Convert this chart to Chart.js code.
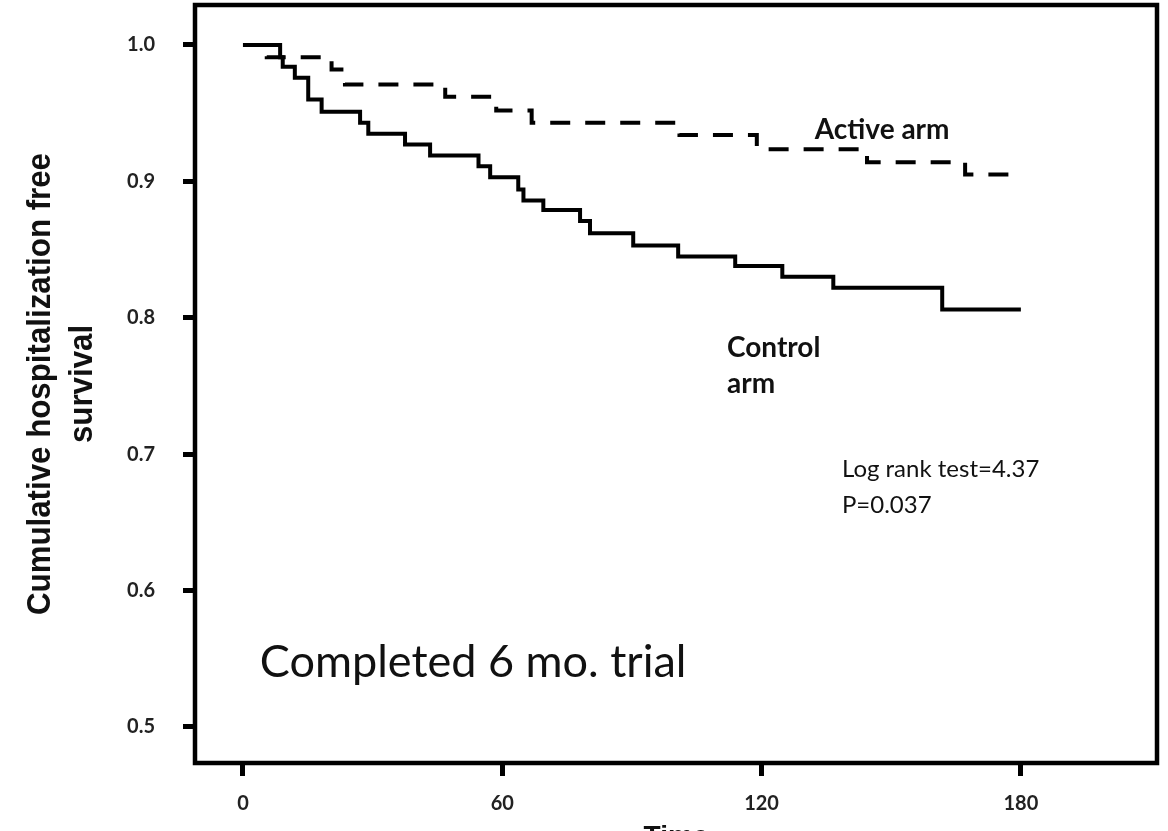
<!DOCTYPE html>
<html>
<head>
<meta charset="utf-8">
<script src="https://cdn.jsdelivr.net/npm/chart.js@4.4.1/dist/chart.umd.min.js"></script>
<style>
  html, body { margin: 0; padding: 0; background: #fff; overflow: hidden; }
  #wrap { width: 1168px; height: 860px; position: relative; }
</style>
</head>
<body>
<div id="wrap"><canvas id="km"></canvas></div>
<script>
// eixos
const xTicks = [0, 60, 120, 180];
const yTicks = [0.5, 0.6, 0.7, 0.8, 0.9, 1.0];

// Kaplan-Meier: dia do evento -> sobrevida depois do degrau
const controlDays = [0, 8.6, 9.2, 12.0, 15.1, 18.2, 27.1, 29.0, 37.5, 43.3, 54.5, 57.2, 63.7, 64.9, 69.5, 78.0, 80.3, 90.3, 100.7, 113.9, 124.8, 136.6, 161.8, 180];
const controlSurv = [1.0, 0.991, 0.984, 0.976, 0.960, 0.951, 0.943, 0.935, 0.927, 0.919, 0.911, 0.903, 0.894, 0.886, 0.879, 0.871, 0.862, 0.853, 0.845, 0.838, 0.830, 0.822, 0.806, 0.806];

const activeDays = [0, 5.5, 20.5, 23.6, 46.8, 58.6, 66.8, 101.0, 118.9, 144.4, 167.1, 180];
const activeSurv = [1.0, 0.991, 0.982, 0.971, 0.962, 0.952, 0.943, 0.934, 0.9235, 0.914, 0.905, 0.905];

const yTitle = ["Cumulative hospitalization free", "survival"];
const xTitle = "Time";

function pts(days, surv) {
  return days.map((d, i) => ({ x: d, y: surv[i] }));
}

// moldura completa + textos soltos dentro do gráfico
const moldura = {
  id: "moldura",
  afterDatasetsDraw(chart) {
    const { ctx, chartArea: a } = chart;
    const xs = chart.scales.x, ys = chart.scales.y;
    ctx.save();
    ctx.strokeStyle = "#000";
    ctx.lineWidth = 4.5;
    ctx.strokeRect(a.left, a.top, a.right - a.left, a.bottom - a.top);

    ctx.fillStyle = "#111";
    ctx.textAlign = "left";
    ctx.textBaseline = "alphabetic";
    const txt = (s, font, d, v) => {
      ctx.font = font;
      ctx.fillText(s, xs.getPixelForValue(d), ys.getPixelForValue(v));
    };
    txt("Active arm", "bold 28px Lato", 132.3, 0.931);
    txt("Control", "bold 28px Lato", 112.0, 0.7711);
    txt("arm", "bold 28px Lato", 112.0, 0.7447);
    txt("Log rank test=4.37", "24px Lato", 138.6, 0.6831);
    txt("P=0.037", "24px Lato", 138.6, 0.6566);
    txt("Completed 6 mo. trial", "45px Lato", 3.9, 0.5363);

    // título do eixo y, em fonte condensada (duas linhas)
    ctx.font = "bold 33px 'Liberation Sans'";
    ctx.textAlign = "center";
    const esc = 462 / ctx.measureText(yTitle[0]).width;
    const cy = (a.top + a.bottom) / 2;
    [[a.left - 145, yTitle[0]], [a.left - 103, yTitle[1]]].forEach(([bx, s]) => {
      ctx.save();
      ctx.translate(bx, cy);
      ctx.rotate(-Math.PI / 2);
      ctx.scale(esc, 1);
      ctx.fillText(s, 0, 0);
      ctx.restore();
    });
    ctx.restore();
  }
};

Chart.defaults.font.family = "Lato";
Chart.defaults.color = "#222";

new Chart(document.getElementById("km"), {
  type: "line",
  data: {
    datasets: [
      {
        label: "Control arm",
        data: pts(controlDays, controlSurv),
        stepped: "before",
        borderColor: "#000",
        borderWidth: 4,
        pointRadius: 0,
        fill: false,
      },
      {
        label: "Active arm",
        data: pts(activeDays, activeSurv),
        stepped: "before",
        borderColor: "#000",
        borderWidth: 4,
        borderDash: [20, 15],
        pointRadius: 0,
        fill: false,
      },
    ],
  },
  options: {
    responsive: true,
    maintainAspectRatio: false,
    animation: false,
    events: [],
    layout: { padding: { left: 0, right: 11, top: 5, bottom: 0 } },
    plugins: { legend: { display: false }, tooltip: { enabled: false } },
    scales: {
      x: {
        type: "linear",
        min: -11.1,
        max: 211.5,
        afterBuildTicks: s => { s.ticks = xTicks.map(v => ({ value: v })); },
        afterFit: s => { s.height = 97; s.paddingLeft = 0; s.paddingRight = 0; },
        ticks: { callback: v => String(v), font: { size: 20, weight: "bold" }, padding: 16, maxRotation: 0 },
        grid: { drawOnChartArea: false, drawTicks: true, tickLength: 13, tickWidth: 5, tickColor: "#000" },
        border: { display: false },
        title: { display: true, text: xTitle, font: { family: "Liberation Sans", size: 28, weight: "bold" }, color: "#111", padding: { top: 0, bottom: 6 } },
      },
      y: {
        type: "linear",
        min: 0.4736,
        max: 1.0293,
        afterBuildTicks: s => { s.ticks = yTicks.map(v => ({ value: v })); },
        // o padding dos rótulos (28) não deve empurrar o topo da área do gráfico
        afterFit: s => { s.width = 195; s.paddingTop = 0; s.paddingBottom = 0; },
        ticks: { callback: v => v.toFixed(1), font: { size: 20, weight: "bold" }, padding: 28 },
        grid: { drawOnChartArea: false, drawTicks: true, tickLength: 12, tickWidth: 5, tickColor: "#000" },
        border: { display: false },
      },
    },
  },
  plugins: [moldura],
});
</script>
</body>
</html>
